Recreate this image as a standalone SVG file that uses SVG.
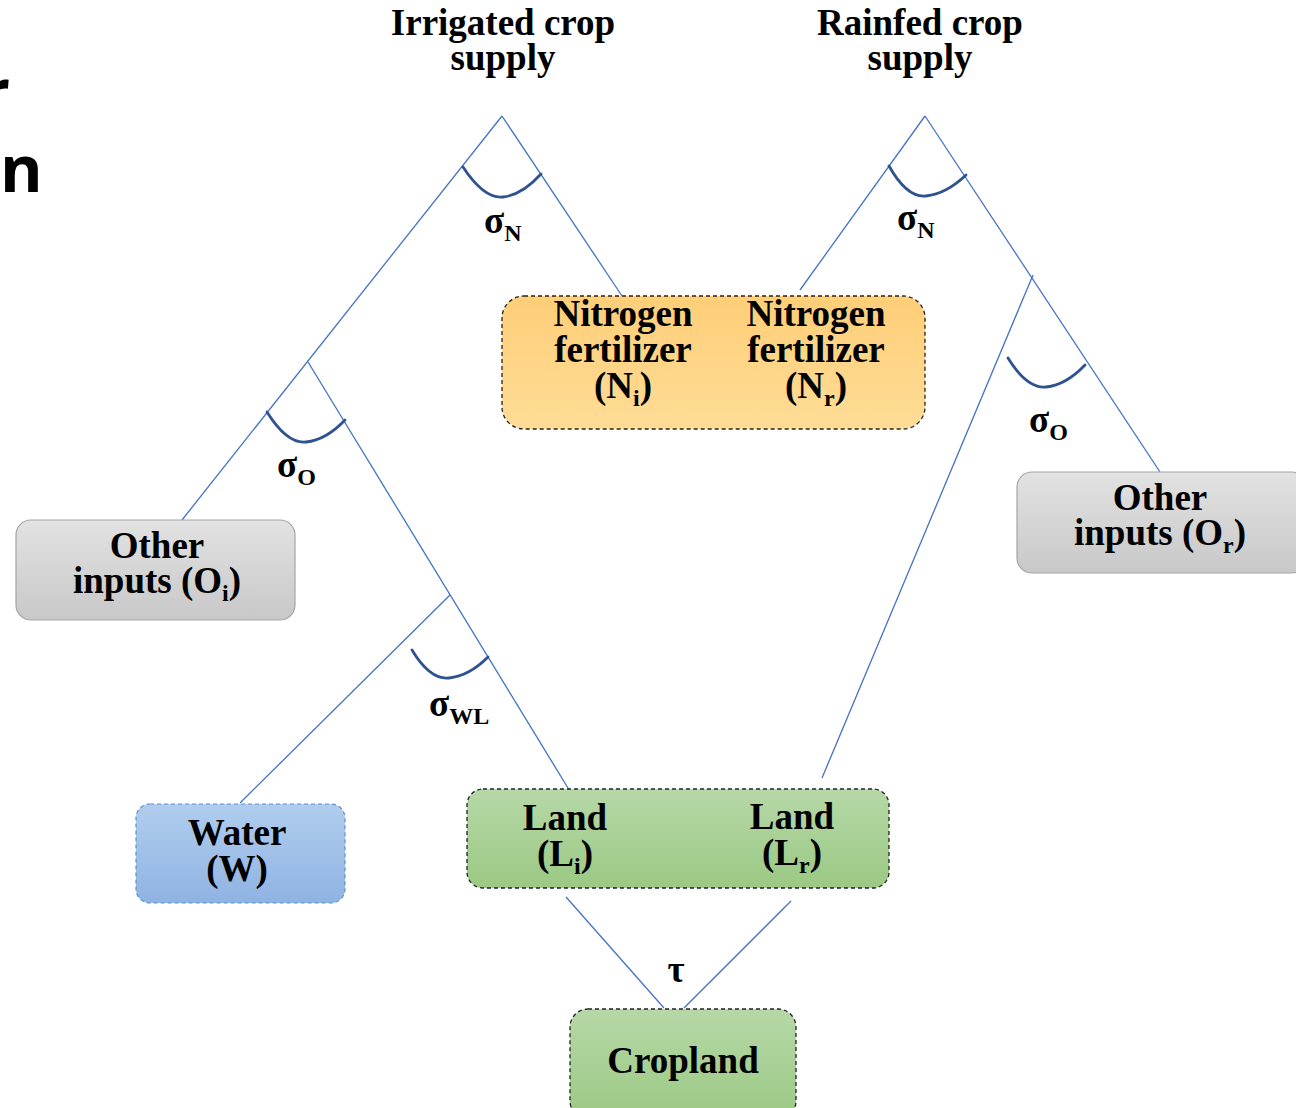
<svg xmlns="http://www.w3.org/2000/svg" width="1296" height="1108" viewBox="0 0 1296 1108">
<defs>
<linearGradient id="gOrange" x1="0" y1="0" x2="0" y2="1"><stop offset="0" stop-color="#fece78"/><stop offset="1" stop-color="#ffdc96"/></linearGradient>
<linearGradient id="gGray" x1="0" y1="0" x2="0" y2="1"><stop offset="0" stop-color="#e2e2e2"/><stop offset="1" stop-color="#c8c8c8"/></linearGradient>
<linearGradient id="gBlue" x1="0" y1="0" x2="0" y2="1"><stop offset="0" stop-color="#b0cdee"/><stop offset="1" stop-color="#8fb3e2"/></linearGradient>
<linearGradient id="gGreen" x1="0" y1="0" x2="0" y2="1"><stop offset="0" stop-color="#b6d8a7"/><stop offset="1" stop-color="#9bc984"/></linearGradient>
<style>
.t{font-family:"Liberation Serif","Times New Roman",serif;font-weight:bold;font-size:37px;fill:#000;text-anchor:middle}
.s{text-anchor:start}
.sub{font-size:24px}
.ln{stroke:#4472c4;stroke-width:1.3;fill:none}
.arc{stroke:#2f5291;stroke-width:2.8;fill:none;stroke-linecap:round}
.dash{stroke:#222;stroke-width:1.3;stroke-dasharray:4 3}
.gray{stroke:#a5a5a5;stroke-width:1.2}
.sans{font-family:"Open Sans","Noto Sans",sans-serif;font-weight:bold;font-size:65px;fill:#000}
</style>
</defs>
<rect width="1296" height="1108" fill="#fff"/>
<text class="sans" x="10" y="115" text-anchor="end">r</text>
<text class="sans" x="0" y="192">n</text>

<g id="connectors">
<line class="ln" x1="502" y1="116" x2="182" y2="520"/>
<line class="ln" x1="502" y1="116" x2="622" y2="296"/>
<line class="ln" x1="308" y1="362" x2="571" y2="793"/>
<line class="ln" x1="450" y1="595" x2="240" y2="803"/>
<line class="ln" x1="925" y1="116" x2="800" y2="290"/>
<line class="ln" x1="925" y1="116" x2="1160" y2="472"/>
<line class="ln" x1="1033" y1="275" x2="822" y2="778"/>
<line class="ln" x1="566" y1="897" x2="664" y2="1008"/>
<line class="ln" x1="791" y1="901" x2="684" y2="1008"/>
<path class="arc" d="M463,167 Q484,199 503,197 Q522,195 541,174"/>
<path class="arc" d="M889,166 Q907,198 926,196 Q946,194 966,175"/>
<path class="arc" d="M267,412 Q287,444 306,442 Q326,440 345,420"/>
<path class="arc" d="M412,650 Q430,680 449,678 Q469,676 488,657"/>
<path class="arc" d="M1008,358 Q1027,389 1046,387 Q1066,385 1085,365"/>
<text class="t s" x="484" y="233">σ<tspan class="sub" dy="8">N</tspan></text>
<text class="t s" x="897" y="230">σ<tspan class="sub" dy="8">N</tspan></text>
<text class="t s" x="277" y="477">σ<tspan class="sub" dy="8">O</tspan></text>
<text class="t s" x="1029" y="432">σ<tspan class="sub" dy="8">O</tspan></text>
<text class="t s" x="429" y="716">σ<tspan class="sub" dy="8">WL</tspan></text>
<text class="t" x="676" y="982">τ</text>
</g>

<g id="irrigated">
<text class="t" x="503" y="35">Irrigated crop</text>
<text class="t" x="503" y="70">supply</text>
</g>
<g id="rainfed">
<text class="t" x="920" y="35">Rainfed crop</text>
<text class="t" x="920" y="70">supply</text>
</g>

<g id="nitrogen">
<rect x="502" y="296" width="423" height="133" rx="22" fill="url(#gOrange)" class="dash"/>
<text class="t" x="623" y="326">Nitrogen</text>
<text class="t" x="623" y="362">fertilizer</text>
<text class="t" x="623" y="398">(N<tspan class="sub" dy="8">i</tspan><tspan dy="-8">)</tspan></text>
<text class="t" x="816" y="326">Nitrogen</text>
<text class="t" x="816" y="362">fertilizer</text>
<text class="t" x="816" y="398">(N<tspan class="sub" dy="8">r</tspan><tspan dy="-8">)</tspan></text>
</g>

<g id="other-i">
<rect x="16" y="520" width="279" height="100" rx="15" fill="url(#gGray)" class="gray"/>
<text class="t" x="157" y="558">Other</text>
<text class="t" x="157" y="593">inputs (O<tspan class="sub" dy="8">i</tspan><tspan dy="-8">)</tspan></text>
</g>

<g id="other-r">
<rect x="1017" y="472" width="290" height="101" rx="15" fill="url(#gGray)" class="gray"/>
<text class="t" x="1160" y="510">Other</text>
<text class="t" x="1160" y="545">inputs (O<tspan class="sub" dy="8">r</tspan><tspan dy="-8">)</tspan></text>
</g>

<g id="water">
<rect x="136" y="804" width="209" height="99" rx="14" fill="url(#gBlue)" stroke="#5f8fd0" stroke-width="1.2" stroke-dasharray="4 3"/>
<text class="t" x="237" y="845">Water</text>
<text class="t" x="237" y="881">(W)</text>
</g>

<g id="land">
<rect x="467" y="789" width="422" height="99" rx="16" fill="url(#gGreen)" class="dash"/>
<text class="t" x="565" y="830">Land</text>
<text class="t" x="565" y="866">(L<tspan class="sub" dy="8">i</tspan><tspan dy="-8">)</tspan></text>
<text class="t" x="792" y="829">Land</text>
<text class="t" x="792" y="865">(L<tspan class="sub" dy="8">r</tspan><tspan dy="-8">)</tspan></text>
</g>

<g id="cropland">
<rect x="570" y="1009" width="226" height="110" rx="18" fill="url(#gGreen)" class="dash"/>
<text class="t" x="683" y="1073">Cropland</text>
</g>
</svg>
